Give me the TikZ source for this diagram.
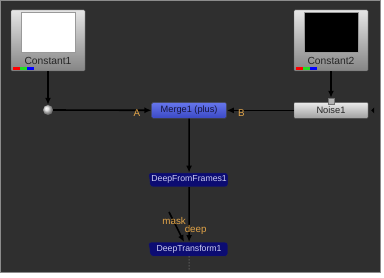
\documentclass[tikz,border=0pt]{standalone}
\usepackage{fontspec}
\setmainfont{Liberation Sans}
\usetikzlibrary{arrows.meta,positioning,shapes.geometric,calc,backgrounds}
\definecolor{GraphBg}{HTML}{2F2F2F}
\definecolor{GraphRim}{HTML}{8C8C8C}
\definecolor{MergeTop}{HTML}{6676EC}
\definecolor{MergeBottom}{HTML}{3A48C4}
\definecolor{MergeInk}{HTML}{14143C}
\definecolor{DeepNavy}{HTML}{0C0C72}
\definecolor{DeepInk}{HTML}{CCCCF2}
\definecolor{PortAmber}{HTML}{E2A448}
\definecolor{BarGreen}{HTML}{22DD22}
\tikzset{
  panel/.style={fill=GraphBg, draw=GraphRim, line width=1pt},
  constant/.style={draw=black!65, rounded corners=1pt, top color=black!10,
    bottom color=black!48, minimum width=74pt, minimum height=61pt, inner sep=0pt},
  preview/.style={draw=black!40, minimum width=54pt, minimum height=40pt, inner sep=0pt},
  nodetext/.style={font=\fontsize{10.3}{11}\selectfont, text=black!85, inner sep=0pt},
  noisebox/.style={draw=black!70, rounded corners=1pt, top color=black!8,
    bottom color=black!38, minimum width=74pt, minimum height=16pt, inner sep=0pt,
    font=\fontsize{9.3}{10}\selectfont, text=black!85},
  mergebox/.style={draw=black!75, rounded corners=1.5pt, top color=MergeTop,
    bottom color=MergeBottom, minimum width=75pt, minimum height=16pt, inner sep=0pt,
    font=\fontsize{9.2}{10}\selectfont, text=MergeInk},
  deepbox/.style={trapezium, trapezium left angle=102, trapezium right angle=90,
    trapezium stretches=true, rounded corners=2.5pt, fill=DeepNavy, draw=black!80,
    minimum width=80pt, minimum height=14pt, inner sep=0pt,
    font=\fontsize{8.7}{10}\selectfont, text=DeepInk},
  dotport/.style={circle, shading=ball, ball color=black!15, minimum size=10pt, inner sep=0pt},
  tabport/.style={draw=black!55, fill=black!30, minimum size=6pt, inner sep=0pt},
  wire/.style={-{Latex[length=7pt, width=6pt]}, line width=1.6pt, draw=black},
  trail/.style={dotted, line width=1pt, draw=black!55},
  portlabel/.style={font=\fontsize{9.8}{10}\selectfont, text=PortAmber, inner sep=0pt}
}
\newcommand{\channelbars}[1]{%
  \fill[red] ([xshift=2pt, yshift=1pt]#1.south west) rectangle ++(7pt,3pt);
  \fill[BarGreen] ([xshift=9pt, yshift=1pt]#1.south west) rectangle ++(7pt,3pt);
  \fill[blue] ([xshift=16pt, yshift=1pt]#1.south west) rectangle ++(7pt,3pt);}

\begin{document}
\begin{tikzpicture}[x=1pt, y=-1pt, node distance=31pt and 67pt]
  \useasboundingbox[fill=white] (0,0) rectangle (384,278);
  \draw[panel] (0.5,0.5) rectangle (380,273);
  % readers
  \node[constant] (constA) at (48,40.5) {};
  \node[preview, fill=white, below=2pt of constA.north] (previewA) {};
  \node[nodetext, anchor=base] (labelA) at ([yshift=7pt]constA.south) {Constant1};
  \channelbars{constA}
  \node[constant] (constB) at (331,40.5) {};
  \node[preview, fill=black, below=2pt of constB.north] (previewB) {};
  \node[nodetext, anchor=base] (labelB) at ([yshift=7pt]constB.south) {Constant2};
  \channelbars{constB}
  % graph
  \node[noisebox, below=of constB] (noise) {Noise1};
  \node[tabport, above=-2pt of noise.north] (noisetab) {};
  \node[mergebox, left=of noise] (merge) {Merge1 (plus)};
  \node[dotport] (dot) at (48,110) {};
  \node[deepbox, below=54pt of merge] (fromframes) {DeepFromFrames1};
  \node[deepbox, below=55pt of fromframes] (transform) {DeepTransform1};
  \coordinate (maskin) at (169,212);
  \coordinate[below=15pt of transform.south] (tail);
  \fill[black] ([xshift=3pt]noise.east) -- ++(3,-3) -- ++(0,6) -- cycle;
  % connections
  \draw[wire] (constA) -- (dot);
  \draw[wire] (constB) -- (noisetab);
  \draw[wire] (dot) -- (merge);
  \draw[wire] (noise) -- (merge);
  \draw[wire] (merge) -- (fromframes);
  \draw[wire] (fromframes) -- (transform);
  \draw[wire] (maskin) -- ([xshift=-5pt]transform.north);
  \draw[trail] (transform) -- (tail);
  \node[portlabel, left=11pt of merge.west, yshift=-3pt] (portA) {A};
  \node[portlabel, right=11pt of merge.east, yshift=-3pt] (portB) {B};
  \node[portlabel] (masklabel) at ([xshift=-15pt, yshift=21pt]transform.north) {mask};
  \node[portlabel, anchor=west] (deeplabel) at ([xshift=-4.5pt, yshift=12pt]transform.north) {deep};
\end{tikzpicture}
\end{document}
